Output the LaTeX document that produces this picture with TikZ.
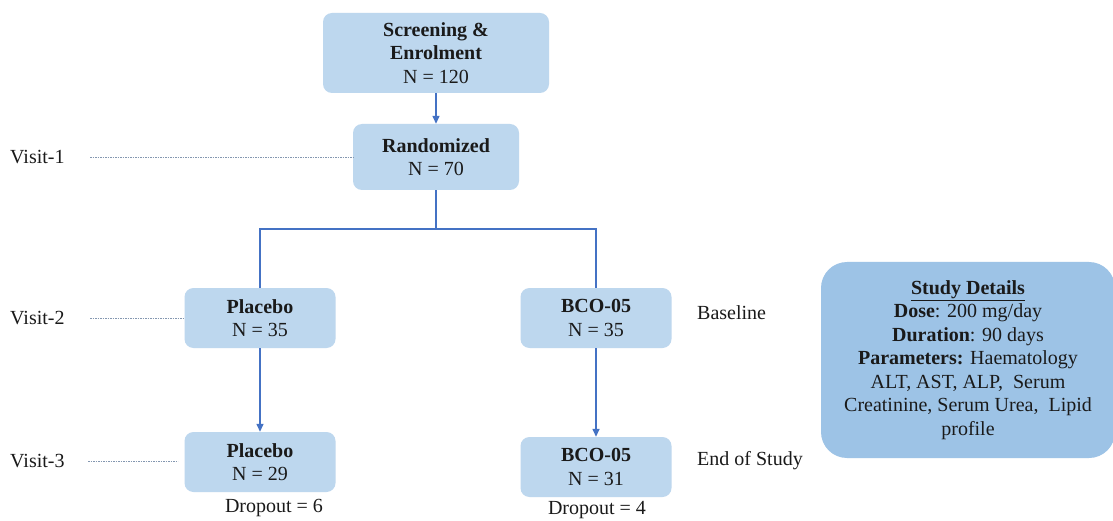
\documentclass[tikz,border=0pt]{standalone}
\usepackage{fontspec}
\setmainfont{Liberation Serif}
\usepackage{tikz}
\usepackage{xcolor}
\usetikzlibrary{arrows.meta,positioning,shapes,calc}
\definecolor{boxblue}{HTML}{BDD7EE}
\definecolor{notesblue}{HTML}{9DC3E6}
\definecolor{lineblue}{HTML}{4472C4}
\definecolor{dotgray}{HTML}{8497B0}
\definecolor{ink}{HTML}{1A1A1A}
\tikzset{
  armbox/.style={fill=boxblue,rounded corners=9pt,
                 minimum width=151pt,minimum height=60pt,
                 align=center,text=ink,inner sep=2pt},
  notebox/.style={fill=notesblue,rounded corners=26pt,
                  minimum width=294pt,minimum height=196pt,
                  align=center,text=ink,inner sep=2pt},
  label/.style={text=ink,anchor=west,inner sep=0pt},
  flowarr/.style={-{Triangle[length=8pt,width=7pt]},line width=1.4pt,color=lineblue},
  flowline/.style={line width=1.4pt,color=lineblue},
  visitline/.style={line width=0.9pt,color=dotgray,dash pattern=on 1.6pt off 0.9pt}
}
\begin{document}
\begin{tikzpicture}[x=1pt,y=-1pt,font=\fontsize{20}{23.5}\selectfont]
  \useasboundingbox[fill=white] (0,0) rectangle (1113,521);
  % boxes
  \node[armbox,minimum width=226pt,minimum height=80pt] (screen) at (436,53)
    {\textbf{Screening \&}\\\textbf{Enrolment}\\N = 120};
  \node[armbox,minimum width=166pt,minimum height=66pt] (rand) at (436,157)
    {\textbf{Randomized}\\N = 70};
  \node[armbox] (plac1) at (260,318) {\textbf{Placebo}\\N = 35};
  \node[armbox] (bco1) at (596,318) {\textbf{BCO-05}\\N = 35};
  \node[armbox] (plac2) at (260,462) {\textbf{Placebo}\\N = 29};
  \node[armbox] (bco2) at (596,467) {\textbf{BCO-05}\\N = 31};
  \node[notebox] (notes) at (968,360)
    {\underline{\textbf{Study Details}}\\
     \textbf{Dose}: 200 mg/day\\
     \textbf{Duration}: 90 days\\
     \textbf{Parameters:} Haematology\\
     ALT, AST, ALP,~ Serum\\
     Creatinine, Serum Urea,~ Lipid\\
     profile};
  % side labels
  \node[label] (visit1) at (10,157) {Visit-1};
  \node[label] (visit2) at (10,318) {Visit-2};
  \node[label] (visit3) at (10,461) {Visit-3};
  \node[label] (base) at (697,313) {Baseline};
  \node[label] (eos) at (697,461) {End of Study};
  \node[text=ink] (drop1) at (274,508) {Dropout = 6};
  \node[text=ink] (drop2) at (597,510) {Dropout = 4};
  % connectors
  \coordinate (split) at (436,229);
  \coordinate (v1) at (90,157);
  \coordinate (v2) at (90,318);
  \coordinate (v3) at (88,461);
  \coordinate (v3end) at (178,461);
  \draw[flowarr] (screen) -- (rand);
  \draw[flowline] (rand) -- (split);
  \draw[flowline] (split) -| (plac1.north);
  \draw[flowline] (split) -| (bco1.north);
  \draw[flowarr] (plac1) -- (plac2);
  \draw[flowarr] (bco1) -- (bco2);
  \draw[visitline] (v1) -- (rand.west);
  \draw[visitline] (v2) -- (plac1.west);
  \draw[visitline] (v3) -- (v3end);
\end{tikzpicture}
\end{document}
